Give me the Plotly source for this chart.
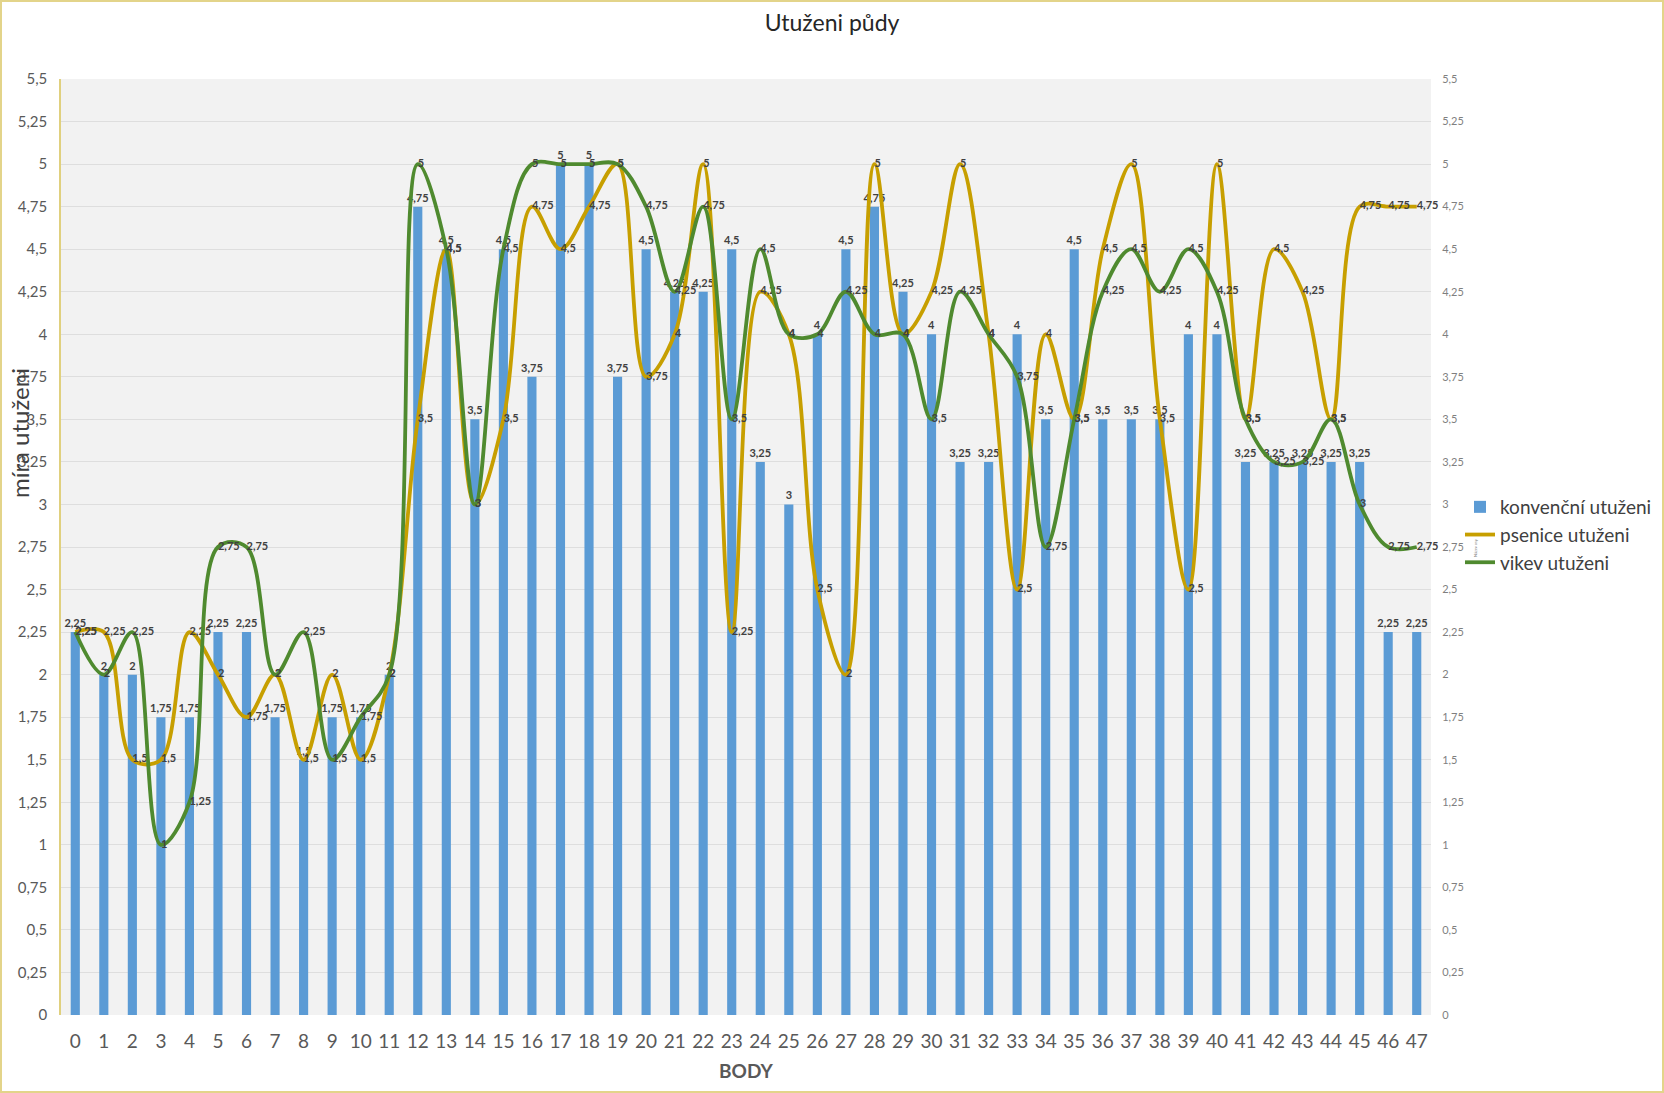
import plotly.graph_objects as go

# ---------------- data ----------------
body = ["0", "1", "2", "3", "4", "5", "6", "7", "8", "9", "10", "11", "12", "13", "14", "15",
        "16", "17", "18", "19", "20", "21", "22", "23", "24", "25", "26", "27", "28", "29", "30", "31",
        "32", "33", "34", "35", "36", "37", "38", "39", "40", "41", "42", "43", "44", "45", "46", "47"]

konvencni = [2.25, 2, 2, 1.75, 1.75, 2.25, 2.25, 1.75, 1.5, 1.75, 1.75, 2,
             4.75, 4.5, 3.5, 4.5, 3.75, 5, 5, 3.75, 4.5, 4.25, 4.25, 4.5,
             3.25, 3, 4, 4.5, 4.75, 4.25, 4, 3.25, 3.25, 4, 3.5, 4.5,
             3.5, 3.5, 3.5, 4, 4, 3.25, 3.25, 3.25, 3.25, 3.25, 2.25, 2.25]

psenice = [2.25, 2.25, 1.5, 1.5, 2.25, 2, 1.75, 2, 1.5, 2, 1.5, 2,
           3.5, 4.5, 3, 3.5, 4.75, 4.5, 4.75, 5, 3.75, 4, 5, 2.25,
           4.25, 4, 2.5, 2, 5, 4, 4.25, 5, 4, 2.5, 4, 3.5,
           4.5, 5, 3.5, 2.5, 5, 3.5, 4.5, 4.25, 3.5, 4.75, 4.75, 4.75]

vikev = [2.25, 2, 2.25, 1, 1.25, 2.75, 2.75, 2, 2.25, 1.5, 1.75, 2,
         5, 4.5, 3, 4.5, 5, 5, 5, 5, 4.75, 4.25, 4.75, 3.5,
         4.5, 4, 4, 4.25, 4, 4, 3.5, 4.25, 4, 3.75, 2.75, 3.5,
         4.25, 4.5, 4.25, 4.5, 4.25, 3.5, 3.25, 3.25, 3.5, 3, 2.75, 2.75]

series_names = ["konvenční utuženi", "psenice utuženi", "vikev utuženi"]

y_tick_values = [0, 0.25, 0.5, 0.75, 1, 1.25, 1.5, 1.75, 2, 2.25, 2.5, 2.75,
                 3, 3.25, 3.5, 3.75, 4, 4.25, 4.5, 4.75, 5, 5.25, 5.5]
y_tick_labels = ["0", "0,25", "0,5", "0,75", "1", "1,25", "1,5", "1,75", "2", "2,25", "2,5", "2,75",
                 "3", "3,25", "3,5", "3,75", "4", "4,25", "4,5", "4,75", "5", "5,25", "5,5"]


def lab(v):
    return f"{v:g}".replace(".", ",")


FONT = "Lato, 'Open Sans', sans-serif"
LABEL_FONT = dict(family=FONT, size=11, color="#404040", weight="bold")

W, H = 1664, 1093
L, R, T, B = 61, 233, 79, 78
PW, PH = W - L - R, H - T - B

fig = go.Figure()

fig.add_trace(go.Bar(
    x=body, y=konvencni, name=series_names[0],
    marker=dict(color="#5b9bd5", line=dict(width=0)),
    text=[lab(v) for v in konvencni], textposition="outside",
    textfont=LABEL_FONT, constraintext="none", cliponaxis=False,
))

fig.add_trace(go.Scatter(
    x=body, y=psenice, name=series_names[1], yaxis="y2",
    mode="lines+text", line=dict(color="#c79f00", width=3.8, shape="spline", smoothing=1),
    text=[lab(v) for v in psenice], textposition="middle right",
    textfont=LABEL_FONT, cliponaxis=False,
))

fig.add_trace(go.Scatter(
    x=body, y=vikev, name=series_names[2], yaxis="y2",
    mode="lines+text", line=dict(color="#4f8a2f", width=3.8, shape="spline", smoothing=1),
    text=[lab(v) for v in vikev], textposition="middle right",
    textfont=LABEL_FONT, cliponaxis=False,
))

fig.update_layout(
    width=W, height=H,
    margin=dict(l=L, r=R, t=T, b=B, autoexpand=False),
    paper_bgcolor="white", plot_bgcolor="#f2f2f2",
    font=dict(family=FONT, color="#595959"),
    bargap=0.68,
    showlegend=True,
    title=dict(text="Utuženi půdy", x=0.5, xref="container", y=1 - 23 / H, yref="container",
               xanchor="center", yanchor="middle",
               font=dict(family=FONT, size=23, color="#262626")),
    xaxis=dict(
        type="category", range=[-0.5, 47.5],
        tickfont=dict(family=FONT, size=19, color="#595959"),
        ticks="outside", ticklen=9, tickcolor="rgba(0,0,0,0)",
        showgrid=False, showline=False, zeroline=False,
        title=dict(text="<b>BODY</b>", font=dict(family=FONT, size=19, color="#595959"), standoff=13),
        automargin=False,
    ),
    yaxis=dict(
        range=[0, 5.5], tickvals=y_tick_values, ticktext=y_tick_labels,
        tickfont=dict(family=FONT, size=15, color="#595959"),
        ticks="outside", ticklen=9, tickcolor="rgba(0,0,0,0)",
        showgrid=True, gridcolor="#dedede", gridwidth=1,
        showline=True, linecolor="#e0d07e", linewidth=1.5,
        zeroline=False, automargin=False,
    ),
    yaxis2=dict(
        range=[0, 5.5], tickvals=y_tick_values, ticktext=y_tick_labels,
        overlaying="y", side="right",
        tickfont=dict(family=FONT, size=11, color="#7f7f7f"),
        ticks="outside", ticklen=8, tickcolor="rgba(0,0,0,0)",
        showgrid=False, showline=False, zeroline=False, automargin=False,
    ),
    legend=dict(
        x=(1460 - L) / PW, xanchor="left", y=(H - B - 535) / PH, yanchor="middle",
        font=dict(family=FONT, size=19, color="#404040"),
        bgcolor="rgba(0,0,0,0)", tracegroupgap=0, itemwidth=30,
    ),
    annotations=[
        dict(text="míra utuženi", xref="paper", yref="paper",
             x=(19 - L) / PW, y=(H - B - 433) / PH, showarrow=False, textangle=-90,
             xanchor="center", yanchor="middle",
             font=dict(family=FONT, size=24, color="#404040")),
        dict(text="Název osy", xref="paper", yref="paper",
             x=(1475 - L) / PW, y=(H - B - 548) / PH, showarrow=False, textangle=-90,
             xanchor="center", yanchor="middle",
             font=dict(family=FONT, size=4, color="#7f7f7f")),
    ],
    shapes=[
        dict(type="rect", xref="paper", yref="paper",
             x0=(1 - L) / PW, x1=(W - 1 - L) / PW,
             y0=(H - B - (H - 1)) / PH, y1=(H - B - 1) / PH,
             line=dict(color="#e3d48a", width=2), fillcolor="rgba(0,0,0,0)", layer="below"),
    ],
)

fig.write_html(
    "out.html",
    config={"displayModeBar": False},
    post_script="document.body.style.margin='0';document.body.style.padding='0';"
                "document.body.style.overflow='hidden';",
)
